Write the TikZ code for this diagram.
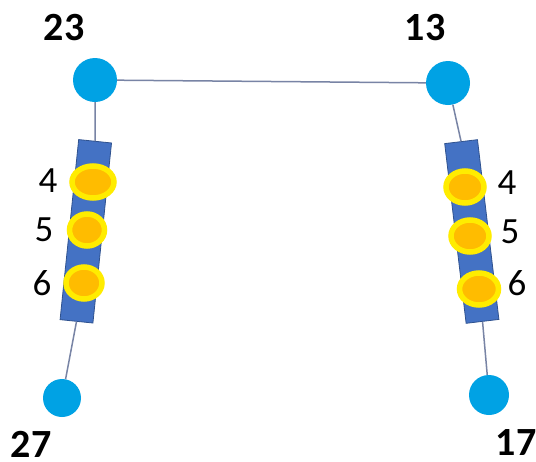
\documentclass[tikz,border=0pt]{standalone}
\usepackage{fontspec}
\setmainfont{Carlito}
\usetikzlibrary{shapes.geometric}
\definecolor{dotblue}{RGB}{0,162,228}
\definecolor{barblue}{RGB}{68,114,196}
\definecolor{baredge}{RGB}{47,82,143}
\definecolor{wire}{RGB}{120,132,165}
\definecolor{ringyellow}{RGB}{255,236,0}
\definecolor{coreorange}{RGB}{255,188,0}
\tikzset{
  dot/.style={circle,fill=dotblue,inner sep=0pt},
  bar/.style={rectangle,fill=barblue,draw=baredge,line width=0.8pt,inner sep=0pt,minimum width=33pt,minimum height=181pt},
  bead/.style={ellipse,fill=coreorange,draw=ringyellow,line width=5.5pt,inner sep=0pt},
  wireline/.style={draw=wire,line width=1.5pt},
  idlabel/.style={inner sep=0pt,font=\fontsize{40}{40}\selectfont\bfseries},
  numlabel/.style={inner sep=0pt,font=\fontsize{37}{37}\selectfont}
}
\begin{document}
\begin{tikzpicture}[x=1pt,y=-1pt]
\useasboundingbox (0,0) rectangle (536,461);
\fill[white] (0,0) rectangle (536,461);
% circles
\node[dot,minimum size=44pt] (c23) at (95,80) {};
\node[dot,minimum size=44pt] (c13) at (448,83) {};
\node[dot,minimum size=38pt] (c27) at (62,398) {};
\node[dot,minimum size=40pt] (c17) at (489,395) {};
% bars
\node[bar,rotate=-5.9] (rL) at (85.8,231.3) {};
\node[bar,rotate=6.8] (rR) at (471.8,231.5) {};
% wires
\draw[wireline] (c23) -- (c13);
\draw[wireline] (c23) -- (rL.north);
\draw[wireline] (rL.south) -- (c27);
\draw[wireline] (c13) -- (rR.north);
\draw[wireline] (rR.south) -- (c17);
% beads left
\node[bead,minimum width=42pt,minimum height=32pt] (bL4) at (93,182) {};
\node[bead,minimum width=35pt,minimum height=32pt] (bL5) at (87,230) {};
\node[bead,minimum width=36pt,minimum height=32pt] (bL6) at (84,283) {};
% beads right
\node[bead,minimum width=38pt,minimum height=32pt] (bR4) at (465,187) {};
\node[bead,minimum width=38pt,minimum height=32pt] (bR5) at (470,236) {};
\node[bead,minimum width=39pt,minimum height=32pt] (bR6) at (479,289) {};
% labels
\node[idlabel] (t23) at (64,28) {23};
\node[idlabel] (t13) at (425,28) {13};
\node[idlabel] (t27) at (31,444) {27};
\node[idlabel] (t17) at (516,443) {17};
\node[numlabel] (lL4) at (48,181) {4};
\node[numlabel] (lL5) at (44,230) {5};
\node[numlabel] (lL6) at (42,283) {6};
\node[numlabel] (lR4) at (507,183) {4};
\node[numlabel] (lR5) at (510,232) {5};
\node[numlabel] (lR6) at (517,283) {6};
\end{tikzpicture}
\end{document}
